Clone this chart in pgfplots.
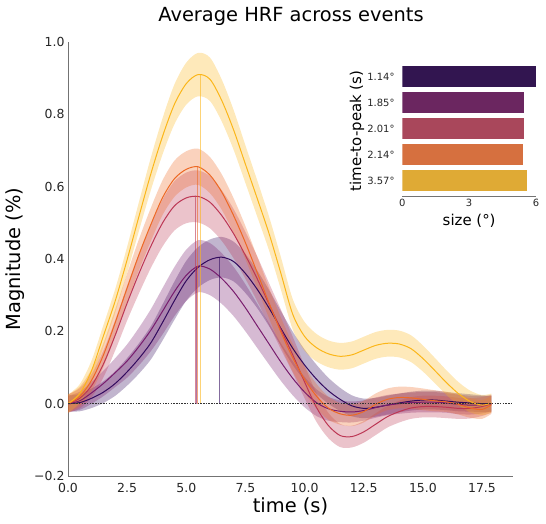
\documentclass[border=0pt]{standalone}
\usepackage{fontspec}
\setmainfont{DejaVu Sans}
\usepackage{pgfplots}
\usepackage{pgfplotstable}
\pgfplotsset{compat=1.18}
\usepgfplotslibrary{fillbetween}

% line / band colours of the five conditions
\definecolor{cA}{HTML}{320A5E}
\definecolor{cB}{HTML}{781C6D}
\definecolor{cC}{HTML}{BC3754}
\definecolor{cD}{HTML}{ED6925}
\definecolor{cE}{HTML}{FBB61A}
% bar colours of the inset
\definecolor{bA}{HTML}{321550}
\definecolor{bB}{HTML}{6B2660}
\definecolor{bC}{HTML}{A9475B}
\definecolor{bD}{HTML}{D6703F}
\definecolor{bE}{HTML}{DFAA35}

% t: time (s), m: mean response, e: half width of the band
\pgfplotstableread{
t m e
0.0 0.000 0.022
0.5 0.003 0.024
1.0 0.015 0.027
1.5 0.032 0.030
2.0 0.056 0.034
2.5 0.088 0.038
3.0 0.125 0.042
3.5 0.168 0.046
4.0 0.225 0.050
4.5 0.285 0.053
5.0 0.340 0.055
5.5 0.377 0.056
6.0 0.398 0.056
6.5 0.405 0.056
7.0 0.393 0.055
7.5 0.360 0.054
8.0 0.316 0.052
8.5 0.264 0.050
9.0 0.208 0.048
9.5 0.153 0.046
10.0 0.107 0.043
10.5 0.068 0.040
11.0 0.036 0.036
11.5 0.012 0.032
12.0 -0.006 0.029
12.5 -0.013 0.027
13.0 -0.010 0.026
13.5 -0.004 0.026
14.0 0.002 0.026
14.5 0.007 0.026
15.0 0.010 0.026
15.5 0.010 0.026
16.0 0.007 0.025
16.5 0.004 0.025
17.0 0.002 0.024
17.5 0.000 0.023
17.9 0.000 0.022
}\hrfA

\pgfplotstableread{
t m e
0.0 0.000 0.022
0.5 0.008 0.025
1.0 0.030 0.030
1.5 0.056 0.035
2.0 0.086 0.040
2.5 0.118 0.046
3.0 0.158 0.052
3.5 0.203 0.058
4.0 0.256 0.064
4.5 0.310 0.068
5.0 0.355 0.071
5.5 0.380 0.072
6.0 0.372 0.072
6.5 0.346 0.070
7.0 0.310 0.068
7.5 0.265 0.065
8.0 0.215 0.061
8.5 0.165 0.057
9.0 0.115 0.052
9.5 0.070 0.047
10.0 0.032 0.042
10.5 0.003 0.037
11.0 -0.014 0.033
11.5 -0.021 0.030
12.0 -0.023 0.029
12.5 -0.019 0.028
13.0 -0.011 0.028
13.5 -0.004 0.028
14.0 0.000 0.028
14.5 0.003 0.028
15.0 0.004 0.028
15.5 0.004 0.028
16.0 0.002 0.027
16.5 -0.002 0.027
17.0 -0.004 0.026
17.5 -0.003 0.024
17.9 0.000 0.022
}\hrfB

\pgfplotstableread{
t m e
0.0 0.000 0.025
0.5 0.015 0.028
1.0 0.050 0.032
1.5 0.110 0.037
2.0 0.190 0.042
2.5 0.278 0.048
3.0 0.360 0.055
3.5 0.435 0.060
4.0 0.500 0.065
4.5 0.547 0.068
5.0 0.569 0.070
5.5 0.573 0.072
6.0 0.557 0.072
6.5 0.520 0.070
7.0 0.470 0.068
7.5 0.410 0.065
8.0 0.345 0.062
8.5 0.275 0.058
9.0 0.205 0.055
9.5 0.135 0.050
10.0 0.060 0.045
10.5 -0.010 0.040
11.0 -0.060 0.035
11.5 -0.088 0.032
12.0 -0.091 0.030
12.5 -0.078 0.030
13.0 -0.057 0.030
13.5 -0.036 0.030
14.0 -0.022 0.030
14.5 -0.012 0.030
15.0 -0.008 0.030
15.5 -0.008 0.030
16.0 -0.010 0.030
16.5 -0.013 0.029
17.0 -0.013 0.028
17.5 -0.008 0.026
17.9 0.000 0.025
}\hrfC

\pgfplotstableread{
t m e
0.0 0.000 0.025
0.5 0.020 0.027
1.0 0.065 0.030
1.5 0.135 0.033
2.0 0.225 0.037
2.5 0.320 0.040
3.0 0.412 0.043
3.5 0.495 0.046
4.0 0.570 0.048
4.5 0.622 0.050
5.0 0.648 0.050
5.5 0.655 0.050
6.0 0.632 0.050
6.5 0.585 0.049
7.0 0.520 0.048
7.5 0.445 0.046
8.0 0.362 0.044
8.5 0.278 0.042
9.0 0.198 0.040
9.5 0.127 0.038
10.0 0.067 0.036
10.5 0.021 0.034
11.0 -0.012 0.032
11.5 -0.028 0.030
12.0 -0.032 0.030
12.5 -0.022 0.030
13.0 -0.002 0.030
13.5 0.012 0.030
14.0 0.017 0.030
14.5 0.016 0.030
15.0 0.012 0.030
15.5 0.008 0.029
16.0 0.005 0.028
16.5 -0.002 0.028
17.0 -0.012 0.027
17.5 -0.016 0.026
17.9 -0.003 0.025
}\hrfD

\pgfplotstableread{
t m e
0.0 0.000 0.025
0.5 0.028 0.026
1.0 0.092 0.028
1.5 0.188 0.030
2.0 0.285 0.033
2.5 0.398 0.036
3.0 0.518 0.040
3.5 0.635 0.045
4.0 0.740 0.050
4.5 0.828 0.055
5.0 0.885 0.058
5.5 0.910 0.060
6.0 0.897 0.060
6.5 0.838 0.058
7.0 0.757 0.055
7.5 0.662 0.052
8.0 0.567 0.050
8.5 0.470 0.047
9.0 0.360 0.045
9.5 0.247 0.042
10.0 0.186 0.040
10.5 0.155 0.038
11.0 0.138 0.037
11.5 0.131 0.037
12.0 0.135 0.037
12.5 0.148 0.037
13.0 0.161 0.037
13.5 0.167 0.037
14.0 0.165 0.037
14.5 0.152 0.037
15.0 0.125 0.036
15.5 0.092 0.035
16.0 0.058 0.034
16.5 0.028 0.032
17.0 0.006 0.030
17.5 -0.004 0.028
17.9 0.002 0.026
}\hrfE

% band (mean +/- half width) and mean line of one condition
\newcommand{\hrfseries}[3]{%
  \addplot[draw=none, forget plot, smooth, name path=up#3]
    table[x=t, y expr=\thisrow{m}+\thisrow{e}] {#1};
  \addplot[draw=none, forget plot, smooth, name path=lo#3]
    table[x=t, y expr=\thisrow{m}-\thisrow{e}] {#1};
  \addplot[fill=#2, fill opacity=0.3, draw=none, forget plot]
    fill between[of=up#3 and lo#3];
  \addplot[#2, line width=1bp, smooth, forget plot] table[x=t, y=m] {#1};
}

\begin{document}
\begin{tikzpicture}
% page frame
\path (-68bp,-48bp) rectangle (478bp,476bp);

\node[font=\fontsize{19.5}{23}\selectfont] at (223bp,460bp) {Average HRF across events};

\begin{axis}[
  at={(0,0)}, anchor=south west,
  scale only axis, width=445bp, height=434bp,
  xmin=0, xmax=18.81, ymin=-0.2, ymax=1.0,
  axis lines*=left,
  axis line style={draw=black!55, line width=0.8bp},
  tick style={draw=none},
  xtick={0,2.5,5,7.5,10,12.5,15,17.5},
  xticklabels={0.0,2.5,5.0,7.5,10.0,12.5,15.0,17.5},
  ytick={-0.2,0,0.2,0.4,0.6,0.8,1.0},
  yticklabels={−0.2,0.0,0.2,0.4,0.6,0.8,1.0},
  ticklabel style={font=\fontsize{12.5}{15}\selectfont, text=black!85},
  xticklabel style={yshift=-4bp},
  xlabel={time (s)}, ylabel={Magnitude (\%)},
  xlabel style={font=\fontsize{19.5}{23}\selectfont, at={(axis description cs:0.5,-0.071)}, anchor=center},
  ylabel style={font=\fontsize{19.5}{23}\selectfont, at={(axis description cs:-0.119,0.5)}, anchor=center},
]
\hrfseries{\hrfA}{cA}{A}
\hrfseries{\hrfB}{cB}{B}
\hrfseries{\hrfC}{cC}{C}
\hrfseries{\hrfD}{cD}{D}
\hrfseries{\hrfE}{cE}{E}

% time-to-peak markers
\addplot[cA, opacity=0.6, line width=0.8bp] coordinates {(6.39,0) (6.39,0.405)};
\addplot[cB, opacity=0.6, line width=0.8bp] coordinates {(5.42,0) (5.42,0.380)};
\addplot[cC, opacity=0.6, line width=0.8bp] coordinates {(5.40,0) (5.40,0.573)};
\addplot[cD, opacity=0.6, line width=0.8bp] coordinates {(5.45,0) (5.45,0.655)};
\addplot[cE, opacity=0.6, line width=0.8bp] coordinates {(5.58,0) (5.58,0.910)};

% baseline
\addplot[black!80, line width=0.5bp, dash pattern=on 1.5bp off 1.2bp] coordinates {(0,0) (18.81,0)};
\end{axis}

\begin{axis}[
  at={(334.3bp,280bp)}, anchor=south west,
  scale only axis, width=133.7bp, height=130bp,
  xmin=0, xmax=6, ymin=-0.4, ymax=4.6, y dir=reverse,
  axis x line*=bottom, axis y line*=left,
  x axis line style={draw=black!55, line width=0.8bp},
  y axis line style={draw=none},
  tick style={draw=none},
  xtick={0,3,6}, xticklabels={0,3,6},
  ytick={0,1,2,3,4},
  yticklabels={1.14°,1.85°,2.01°,2.14°,3.57°},
  xticklabel style={font=\fontsize{10}{12}\selectfont, text=black!85},
  yticklabel style={font=\fontsize{10}{12}\selectfont, text=black!85},
  xlabel={size (°)}, ylabel={time-to-peak (s)},
  xlabel style={font=\fontsize{15}{18}\selectfont, at={(axis description cs:0.5,-0.19)}, anchor=center},
  ylabel style={font=\fontsize{15}{18}\selectfont, at={(axis description cs:-0.339,0.5)}, anchor=center},
  xbar, bar width=20.8bp,
]
\addplot[fill=bA, draw=none, bar shift=0pt] coordinates {(6.00,0)};
\addplot[fill=bB, draw=none, bar shift=0pt] coordinates {(5.46,1)};
\addplot[fill=bC, draw=none, bar shift=0pt] coordinates {(5.46,2)};
\addplot[fill=bD, draw=none, bar shift=0pt] coordinates {(5.42,3)};
\addplot[fill=bE, draw=none, bar shift=0pt] coordinates {(5.60,4)};
\end{axis}
\end{tikzpicture}
\end{document}
